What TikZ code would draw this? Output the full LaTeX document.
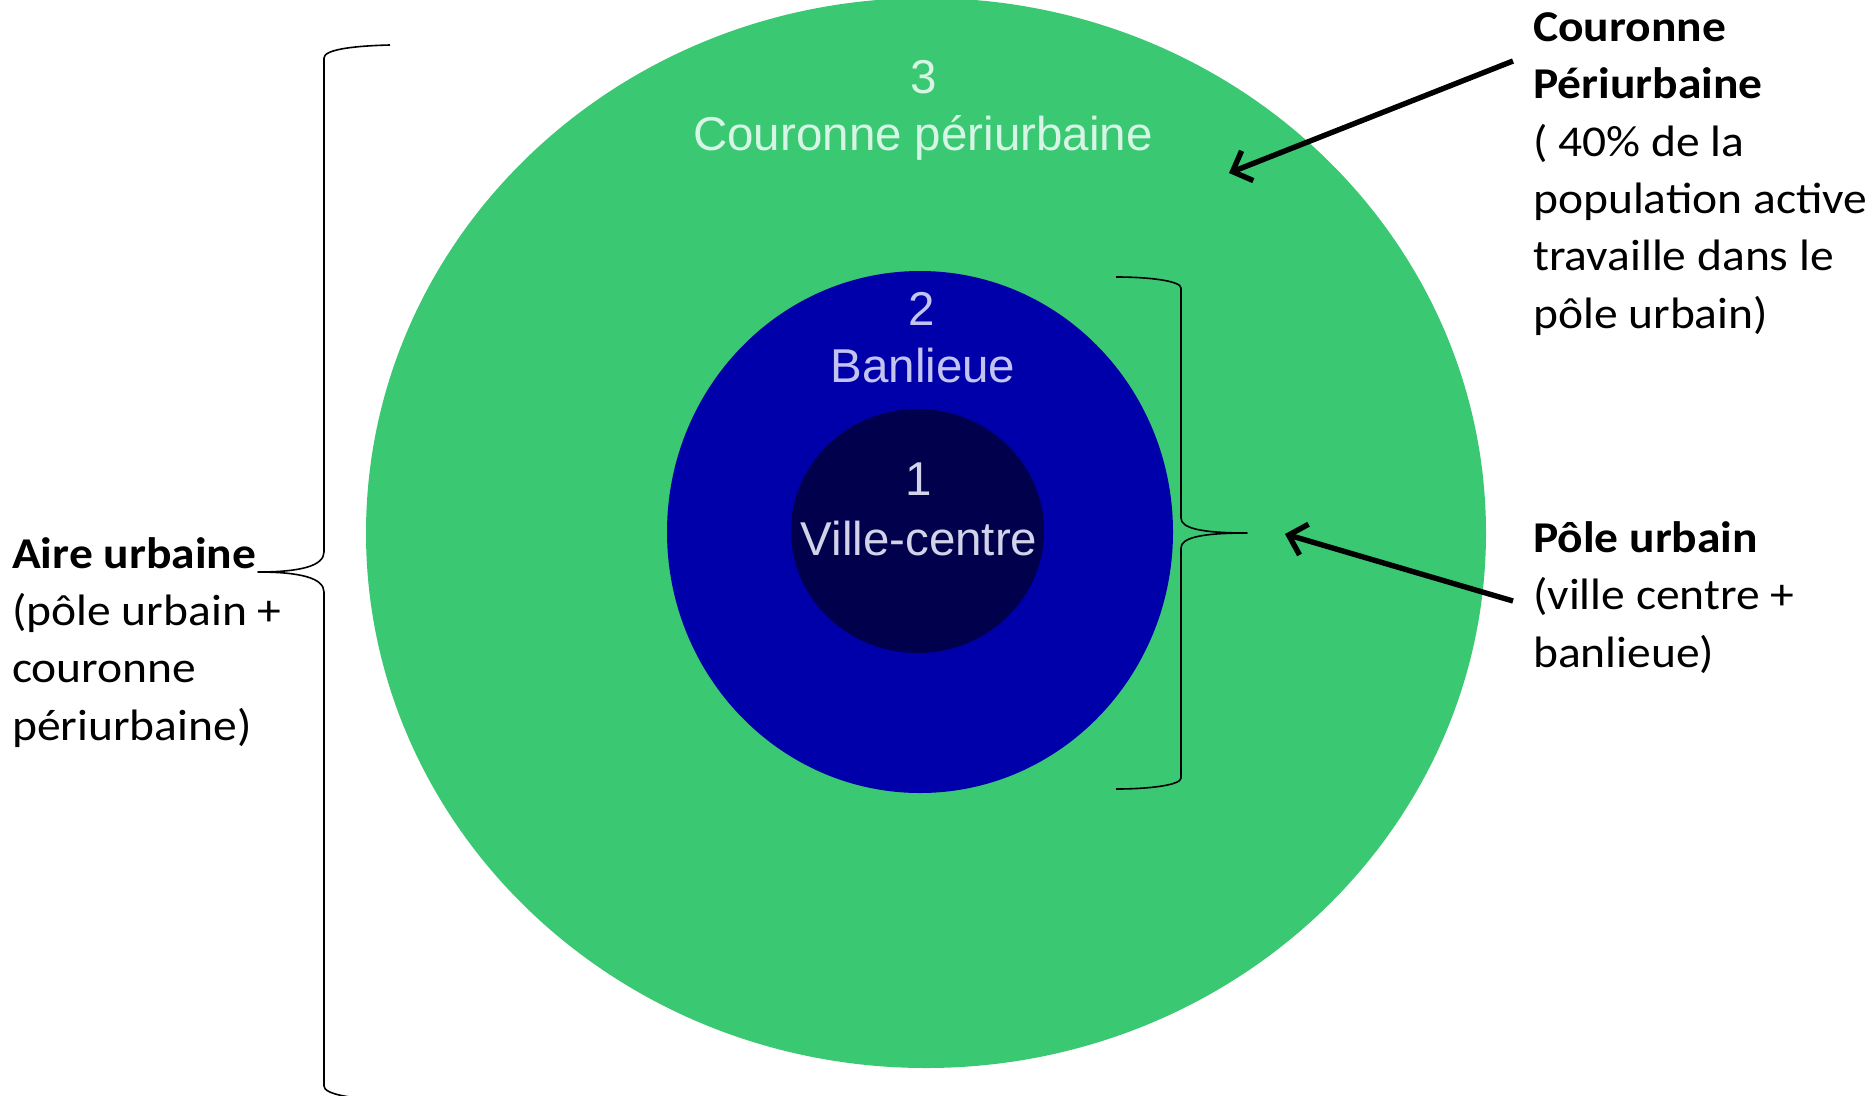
\documentclass[tikz,border=0pt]{standalone}
\usepackage{fontspec}
\setmainfont{Carlito}[FakeStretch=1.08]
\newfontfamily\labfont{Liberation Sans}
\usetikzlibrary{arrows.meta,shapes.geometric}
\definecolor{ringgreen}{RGB}{58,200,115}
\definecolor{ringblue}{RGB}{0,0,170}
\definecolor{ringnavy}{RGB}{0,0,77}
\definecolor{labthree}{RGB}{215,245,228}
\definecolor{labtwo}{RGB}{195,195,240}
\definecolor{labone}{RGB}{210,210,232}
\begin{document}
\begin{tikzpicture}[x=1pt,y=-1pt,
  zone/.style={ellipse, draw=none, inner sep=0},
  brace/.style={line width=1.6pt, line join=round},
  pointer/.style={line width=5.4pt, -{Straight Barb[length=16pt,width=32pt]}},
  desc/.style={anchor=base west, inner sep=0, align=left, font=\fontsize{44}{57.3}\selectfont},
  lab/.style={inner sep=0, anchor=base, font=\labfont\fontsize{47.5}{60}\selectfont}]
\useasboundingbox (0,0) rectangle (1874,1095);
% rings
\node[zone, fill=ringgreen, minimum width=1120pt, minimum height=1070pt] (ring3) at (926,533) {};
\node[zone, fill=ringblue, minimum width=506pt, minimum height=522pt] (ring2) at (920,532) {};
\node[zone, fill=ringnavy, minimum width=253pt, minimum height=244pt] (ring1) at (917.5,531) {};
% inner labels
\node[lab, text=labthree] (n3) at (924,93) {3};
\node[lab, text=labthree] (t3) at (923,150) {Couronne périurbaine};
\node[lab, text=labtwo] (n2) at (922,325) {2};
\node[lab, text=labtwo] (t2) at (923,382) {Banlieue};
\node[lab, text=labone] (n1) at (919,495) {1};
\node[lab, text=labone] (t1) at (919,555) {Ville-centre};
% descriptions (anchored at the baseline of their last line)
\node[desc] (couronne) at (1533,328) {\textbf{Couronne}\\\textbf{Périurbaine}\\( 40\% de la\\population active\\travaille dans le\\pôle urbain)};
\node[desc] (pole) at (1533,667) {\textbf{Pôle urbain}\\(ville centre +\\banlieue)};
\node[desc] (aire) at (12,740) {\textbf{Aire urbaine}\\(pôle urbain +\\couronne\\périurbaine)};
% braces
\draw[brace] (390,45) .. controls (350,46) and (324,50) .. (324,58) -- (324,552) .. controls (324,566) and (300,572) .. (258,572) .. controls (300,572) and (324,578) .. (324,592) -- (324,1086) .. controls (324,1094) and (350,1099) .. (390,1100);
\draw[brace] (1116,277) .. controls (1150,277) and (1181,281) .. (1181,288) -- (1181,518) .. controls (1181,528) and (1200,533) .. (1247,533) .. controls (1200,533) and (1181,538) .. (1181,548) -- (1181,778) .. controls (1181,785) and (1150,789) .. (1116,789);
% arrows
\coordinate (a1s) at (1513,61);
\coordinate (a1e) at (1229,173);
\coordinate (a2s) at (1513,601);
\coordinate (a2e) at (1285,534);
\draw[pointer] (a1s) -- (a1e);
\draw[pointer] (a2s) -- (a2e);
\end{tikzpicture}
\end{document}
